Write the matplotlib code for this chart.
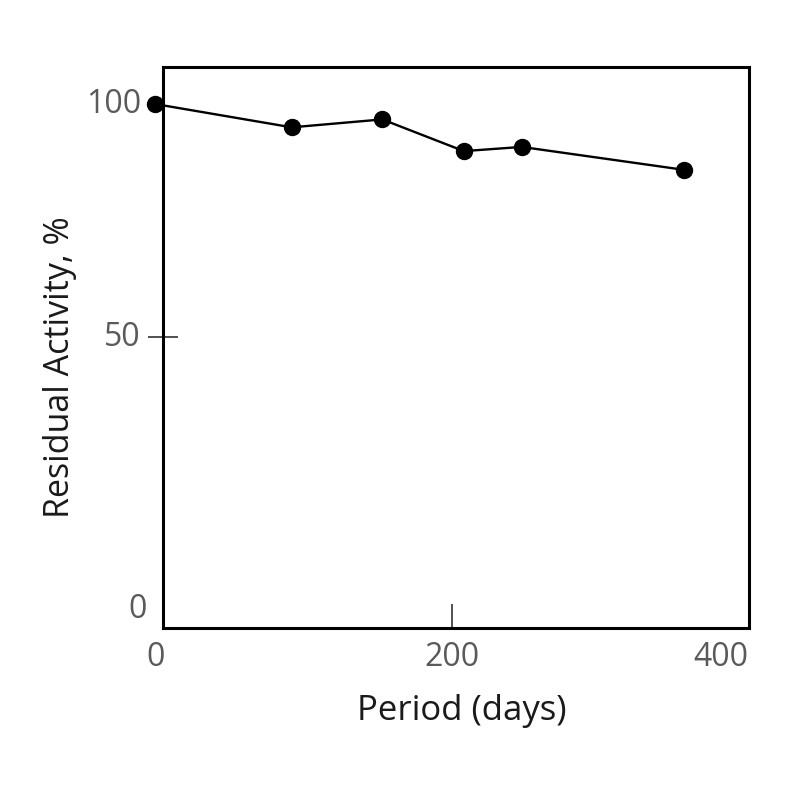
import matplotlib
matplotlib.use('Agg')
import matplotlib.pyplot as plt

# Данные
days = [0, 92, 153, 208, 247, 356]
activity = [100, 95.0, 96.7, 89.9, 90.8, 85.9]

x_tick_values = [0, 200, 400]
y_tick_values = [0, 50, 100]

plt.rcParams['font.family'] = ['Open Sans', 'DejaVu Sans']

fig = plt.figure(figsize=(8, 8), dpi=100)
ax = fig.add_axes([0.204, 0.215, 0.732, 0.701])

ax.plot(days, activity, color='black', linewidth=1.7, marker='o',
        markersize=11.5, markerfacecolor='black', markeredgecolor='black',
        clip_on=False, zorder=3)

ax.set_xlim(5.4, 400)
ax.set_ylim(-12.4, 107.9)

for side in ['left', 'right', 'top', 'bottom']:
    ax.spines[side].set_linewidth(2.2)
    ax.spines[side].set_color('black')

# только внутренняя засечка на 200 и сквозная на 50
ax.set_xticks([200])
ax.set_yticks([50])
ax.tick_params(axis='x', direction='in', length=17, width=1.2, color='#333333',
               labelbottom=False)
ax.tick_params(axis='y', direction='inout', length=22, width=1.2, color='#333333',
               labelleft=False)

# подписи делений
tick_color = '#5a5a5a'
for v in x_tick_values:
    ha = 'right' if v == x_tick_values[-1] else 'center'
    ax.annotate(str(v), xy=(v, 0), xycoords=('data', 'axes fraction'),
                xytext=(0, -21), textcoords='offset points',
                ha=ha, va='center', fontsize=23, color=tick_color,
                annotation_clip=False)
for v in y_tick_values:
    if v == 0:
        xy = (0, 0)
        coords = 'axes fraction'
        off = (-12, 13)
    else:
        xy = (0, v)
        coords = ('axes fraction', 'data')
        off = (-16, 0)
    ax.annotate(str(v), xy=xy, xycoords=coords, xytext=off,
                textcoords='offset points', ha='right', va='center',
                fontsize=23, color=tick_color, annotation_clip=False)

ax.set_xlabel('Period (days)', fontsize=25, color='#1a1a1a')
ax.set_ylabel('Residual Activity, %', fontsize=24.5, color='#1a1a1a')
ax.xaxis.set_label_coords(0.509, -0.118)
ax.yaxis.set_label_coords(-0.148, 0.465)

plt.savefig('out.png', dpi=100)
